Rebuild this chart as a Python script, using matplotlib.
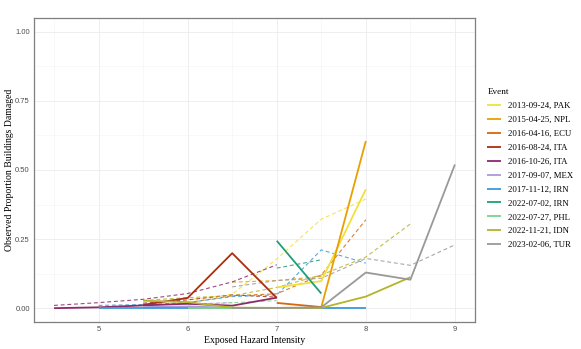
import matplotlib
matplotlib.use("Agg")
import matplotlib.pyplot as plt
from matplotlib.ticker import MultipleLocator

# Event labels and colours
events = ["2013-09-24, PAK", "2015-04-25, NPL", "2016-04-16, ECU", "2016-08-24, ITA",
          "2016-10-26, ITA", "2017-09-07, MEX", "2017-11-12, IRN", "2022-07-02, IRN",
          "2022-07-27, PHL", "2022-11-21, IDN", "2023-02-06, TUR"]
colors = ["#F2E03A", "#E8A000", "#D9660A", "#A8300F", "#8C2A6A", "#A99BDA",
          "#3A9AD9", "#1F9E78", "#7ED28C", "#B5B32A", "#999999"]

# Observed proportion damaged (solid)
obs_x = [
    [7, 7.5, 8],
    [7.5, 8],
    [7, 7.5],
    [5.5, 6, 6.5, 7],
    [4.5, 5, 5.5, 6, 6.5, 7],
    [5.5, 6, 6.5],
    [5, 5.5, 6, 6.5, 7, 7.5, 8],
    [7, 7.5],
    [6, 6.5],
    [5.5, 6, 6.5, 7, 7.5, 8, 8.5],
    [6.5, 7, 7.5, 8, 8.5, 9],
]
obs_y = [
    [0.075, 0.098, 0.43],
    [0.003, 0.605],
    [0.019, 0.004],
    [0.012, 0.037, 0.199, 0.037],
    [0.0, 0.003, 0.01, 0.016, 0.009, 0.038],
    [0.004, 0.006, 0.002],
    [0.0, 0.0, 0.0, 0.0, 0.0, 0.0, 0.0],
    [0.244, 0.053],
    [0.0, 0.0],
    [0.027, 0.022, 0.002, 0.001, 0.001, 0.042, 0.112],
    [0.001, 0.001, 0.003, 0.129, 0.103, 0.52],
]

# Modelled proportion damaged (dashed)
pred_x = [
    [6, 6.5, 7, 7.5, 8],
    [6.5, 7, 7.5],
    [6, 6.5, 7, 7.5, 8],
    [5.5, 6, 6.5, 7],
    [4.5, 5, 5.5, 6, 6.5, 7],
    [5.5, 6, 6.5],
    [5, 5.5, 6, 6.5, 7, 7.5, 8],
    [7, 7.5],
    [6, 6.5, 7],
    [5.5, 6, 6.5, 7, 7.5, 8, 8.5],
    [6.5, 7, 7.5, 8, 8.5, 9],
]
pred_y = [
    [0.03, 0.05, 0.178, 0.322, 0.395],
    [0.094, 0.1, 0.115],
    [0.02, 0.045, 0.052, 0.12, 0.32],
    [0.018, 0.03, 0.048, 0.04],
    [0.01, 0.02, 0.032, 0.053, 0.095, 0.157],
    [0.012, 0.015, 0.02],
    [0.01, 0.013, 0.02, 0.042, 0.048, 0.211, 0.163],
    [0.145, 0.175],
    [0.012, 0.02, 0.027],
    [0.028, 0.038, 0.045, 0.075, 0.12, 0.185, 0.305],
    [0.077, 0.1, 0.108, 0.18, 0.155, 0.229],
]

plt.rcParams["font.family"] = ["Liberation Serif", "DejaVu Serif"]

fig = plt.figure(figsize=(5.81, 3.49), dpi=100)
ax = fig.add_axes([0.0585, 0.0774, 0.759, 0.871])

handles = []
for i in range(len(events)):
    ax.plot(pred_x[i], pred_y[i], color=colors[i], lw=0.8, ls=(0, (3.5, 2.5)), alpha=0.85)
for i in range(len(events)):
    h, = ax.plot(obs_x[i], obs_y[i], color=colors[i], lw=1.3, solid_capstyle="butt")
    handles.append(h)

ax.set_xlim(4.275, 9.225)
ax.set_ylim(-0.05, 1.05)
ax.xaxis.set_major_locator(MultipleLocator(1))
ax.xaxis.set_minor_locator(MultipleLocator(0.5))
ax.set_yticks([0, 0.25, 0.5, 0.75, 1.0])
ax.set_yticklabels(["0.00", "0.25", "0.50", "0.75", "1.00"])
ax.yaxis.set_minor_locator(MultipleLocator(0.125))
ax.grid(which="major", color="#EBEBEB", lw=0.6)
ax.grid(which="minor", color="#F4F4F4", lw=0.4)
ax.set_axisbelow(True)
for s in ax.spines.values():
    s.set_color("#7F7F7F")
    s.set_linewidth(0.9)
ax.tick_params(which="both", length=0, pad=3)
ax.tick_params(labelsize=5.5, labelcolor="#4D4D4D")
for lab in ax.get_xticklabels() + ax.get_yticklabels():
    lab.set_family(["Liberation Sans", "DejaVu Sans"])

ax.set_xlabel("Exposed Hazard Intensity", fontsize=7, labelpad=2)
ax.set_ylabel("Observed Proportion Buildings Damaged", fontsize=7, labelpad=1)

leg = fig.legend(handles, events, title="Event", loc="upper left",
                 bbox_to_anchor=(0.833, 0.757), frameon=False, fontsize=6.3,
                 title_fontsize=6.6, handlelength=1.6, handletextpad=0.75,
                 labelspacing=0.66, borderaxespad=0)
leg._legend_box.align = "left"

fig.savefig("out.png", dpi=100)
